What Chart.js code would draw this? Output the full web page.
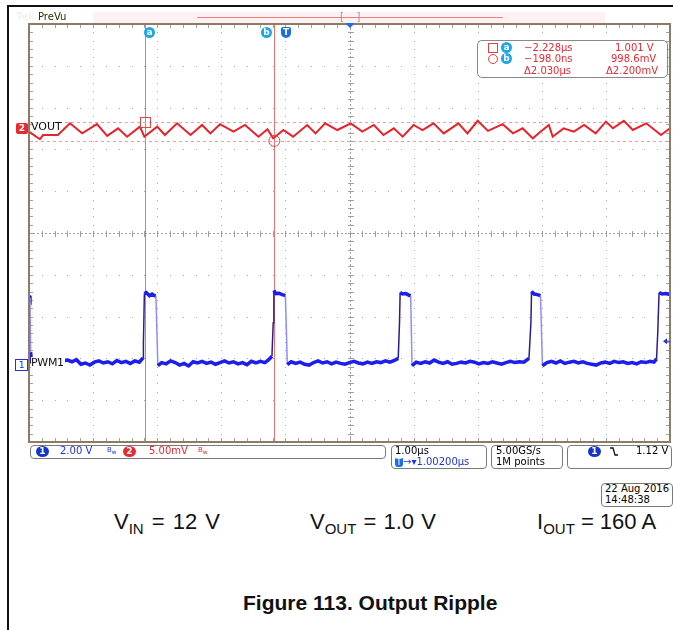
<!DOCTYPE html>
<html>
<head>
<meta charset="utf-8">
<script src="https://cdn.jsdelivr.net/npm/chart.js@4.4.1/dist/chart.umd.min.js"></script>
<style>
html, body { margin: 0; padding: 0; background: #fff; }
#page { position: relative; width: 673px; height: 630px; overflow: hidden; font-family: "DejaVu Sans", sans-serif; font-size: 10px; }
.abs { position: absolute; white-space: nowrap; line-height: 12px; }
#scope { position: absolute; left: 25px; top: 20px; }
.box { position: absolute; border: 1px solid #7a7a7a; border-radius: 4px; background: #fff; }
.dot { position: absolute; width: 11px; height: 11px; border-radius: 50%; color: #fff; font-size: 9px; font-weight: bold; line-height: 11px; text-align: center; }
.cyan { background: #1ea7e6; }
.red { color: #e52a32; }
.blue { color: #2233dd; }
.cap { position: absolute; white-space: nowrap; font-family: "Liberation Sans", Arial, sans-serif; font-size: 22px; line-height: 24px; color: #111; }
.cap sub { font-size: 15px; vertical-align: baseline; position: relative; top: 5px; }
.bw { font-size: 7px; position: relative; top: -2px; }
</style>
</head>
<body>
<div id="page">
  <canvas id="scope" width="649" height="426"></canvas>

  <div class="abs" style="left:7px;top:5px;width:666px;height:2px;background:#111"></div>
  <div class="abs" style="left:7px;top:5px;width:2px;height:625px;background:#111"></div>

  <div class="abs" style="left:93px;top:12px;width:512px;height:11px;background:#fdf1f4"></div>
  <div class="abs" style="left:197px;top:17px;width:306px;height:1px;background:#f07c7c"></div>
  <div class="abs" style="left:16px;top:11px;color:#f2f2f2;font-weight:bold">Tek</div>
  <div class="abs" style="left:38px;top:11px;color:#2b2b00">PreVu</div>
  <div class="abs" style="left:340px;top:11px;color:#999;font-size:10px">[&nbsp;&nbsp;&nbsp;&nbsp;]</div>

  <div class="dot cyan" style="left:144px;top:27px">a</div>
  <div class="dot cyan" style="left:261px;top:27px">b</div>
  <div class="abs" style="left:281px;top:27px;width:10px;height:11px;background:#1c6fe0;color:#fff;font-size:9px;font-weight:bold;text-align:center;line-height:11px;border-radius:2px 2px 5px 5px">T</div>

  <div class="box" style="left:477px;top:40px;width:189px;height:36px;border-color:#888;border-radius:5px"></div>
  <div class="abs" style="left:488px;top:43px;width:8px;height:8px;border:1px solid #e84040"></div>
  <div class="dot cyan" style="left:501px;top:42px">a</div>
  <div class="abs red" style="left:524px;top:42px">−2.228µs</div>
  <div class="abs red" style="left:615px;top:42px">1.001 V</div>
  <div class="abs" style="left:488px;top:54px;width:8px;height:8px;border:1px solid #e84040;border-radius:50%"></div>
  <div class="dot cyan" style="left:501px;top:53px">b</div>
  <div class="abs red" style="left:524px;top:53px">−198.0ns</div>
  <div class="abs red" style="left:611px;top:53px">998.6mV</div>
  <div class="abs red" style="left:524px;top:65px">Δ2.030µs</div>
  <div class="abs red" style="left:606px;top:65px">Δ2.200mV</div>

  <div class="abs" style="left:16px;top:123px;width:12px;height:11px;background:#e52a32;color:#fff;font-weight:bold;font-size:9px;text-align:center;line-height:11px;border-radius:2px">2</div>
  <div class="abs" style="left:31px;top:121px;color:#111;font-size:11px">VOUT</div>
  <div class="abs" style="left:15px;top:359px;width:11px;height:10px;border:1px solid #2233dd;color:#2233dd;font-size:9px;text-align:center;line-height:10px;background:#fff">1</div>
  <div class="abs" style="left:31px;top:357px;color:#111;background:#fff;padding-right:1px;font-size:11px;letter-spacing:-0.3px">PWM1</div>

  <div class="box" style="left:30px;top:445px;width:354px;height:12px"></div>
  <div class="dot" style="left:36px;top:446px;width:13px;background:#1536c8">1</div>
  <div class="abs blue" style="left:60px;top:445px">2.00 V</div>
  <div class="abs blue" style="left:107px;top:445px"><span class="bw">B<sub>w</sub></span></div>
  <div class="dot" style="left:123px;top:446px;width:13px;background:#e52a32">2</div>
  <div class="abs red" style="left:149px;top:445px">5.00mV</div>
  <div class="abs red" style="left:198px;top:445px"><span class="bw">B<sub>w</sub></span></div>

  <div class="box" style="left:391px;top:445px;width:94px;height:22px"></div>
  <div class="abs" style="left:395px;top:445px">1.00µs</div>
  <div class="abs blue" style="left:395px;top:456px"><span style="display:inline-block;width:8px;height:9px;background:#1c6fe0;color:#fff;font-size:8px;line-height:9px;text-align:center;border-radius:1px 1px 3px 3px">T</span>→▾1.00200µs</div>

  <div class="box" style="left:491px;top:445px;width:70px;height:22px"></div>
  <div class="abs" style="left:496px;top:445px">5.00GS/s</div>
  <div class="abs" style="left:496px;top:456px">1M points</div>

  <div class="box" style="left:567px;top:445px;width:103px;height:22px"></div>
  <div class="dot" style="left:588px;top:446px;width:13px;background:#1536c8">1</div>
  <svg class="abs" style="left:609px;top:446px" width="10" height="11"><polyline points="1,2 4,2 6,9 9,9" fill="none" stroke="#111" stroke-width="1.3"/></svg>
  <div class="abs" style="left:636px;top:445px">1.12 V</div>

  <div class="box" style="left:601px;top:483px;width:70px;height:22px"></div>
  <div class="abs" style="left:605px;top:483px">22 Aug 2016</div>
  <div class="abs" style="left:605px;top:494px">14:48:38</div>

  <div class="cap" style="left:114px;top:510px;word-spacing:2px">V<sub>IN</sub> = 12 V</div>
  <div class="cap" style="left:310px;top:510px;word-spacing:1px">V<sub>OUT</sub> = 1.0 V</div>
  <div class="cap" style="left:537px;top:510px">I<sub>OUT</sub> = 160 A</div>
  <div class="cap" style="left:243px;top:591px;font-size:21px;font-weight:bold">Figure 113. Output Ripple</div>
</div>

<script>
// time in µs from screen centre, 1 µs/div, 10 divisions
const voutTime = [-5.00, -4.83, -4.78, -4.55, -4.36, -4.17, -3.94, -3.78, -3.61, -3.47, -3.27, -3.20,
  -3.00, -2.88, -2.69, -2.48, -2.30, -2.17, -2.02, -1.81, -1.63, -1.42, -1.28, -1.19, -1.03, -0.88,
  -0.66, -0.53, -0.38, -0.19, 0.02, 0.20, 0.38, 0.53, 0.69, 0.83, 1.00, 1.14, 1.31, 1.47, 1.70, 1.84,
  2.00, 2.16, 2.39, 2.55, 2.70, 2.86, 2.98, 3.11, 3.17, 3.34, 3.50, 3.66, 3.84, 4.00, 4.11, 4.28, 4.42,
  4.63, 4.86, 5.00];
// VOUT in mV (ch2, 5 mV/div)
const voutMv = [999.7, 998.8, 999.3, 999.3, 1000.7, 999.5, 1000.6, 999.2, 1000.1, 999.1, 1000.3, 999.1,
  1000.3, 999.3, 1000.7, 999.3, 1000.5, 999.5, 1000.6, 999.7, 1000.5, 999.1, 1000.0, 998.9, 999.9, 999.1,
  1000.5, 999.5, 1000.7, 999.9, 1000.7, 999.7, 1000.5, 999.3, 1000.1, 999.1, 1000.5, 999.9, 1000.7, 999.5,
  1000.7, 999.5, 1001.0, 999.8, 1000.6, 999.5, 1000.1, 998.9, 999.7, 1000.5, 999.1, 1000.1, 999.7, 1000.5,
  999.5, 1000.9, 1000.1, 1001.0, 999.9, 1000.7, 999.3, 1000.1];

const pwmTime = [-5.00, -4.985, -4.975,
  -4.96, -4.88, -4.80, -4.72, -4.64, -4.56, -4.48, -4.40, -4.33, -4.26, -4.19, -4.12, -4.05, -3.98, -3.91,
  -3.84, -3.77, -3.70, -3.63, -3.56, -3.49, -3.42, -3.35, -3.28, -3.24, -3.22,
  -3.215, -3.20, -3.17, -3.12, -3.08, -3.04, -3.02,
  -2.99, -2.93, -2.86, -2.79, -2.72, -2.65, -2.58, -2.51, -2.44, -2.37, -2.30, -2.23, -2.16, -2.09, -2.02,
  -1.95, -1.88, -1.81, -1.74, -1.67, -1.60, -1.53, -1.46, -1.39, -1.32, -1.26, -1.21,
  -1.19, -1.18, -1.15, -1.10, -1.05, -1.00,
  -0.97, -0.91, -0.84, -0.77, -0.70, -0.63, -0.56, -0.49, -0.42, -0.35, -0.28, -0.21, -0.14, -0.07, 0.00,
  0.07, 0.14, 0.21, 0.28, 0.35, 0.42, 0.49, 0.56, 0.63, 0.70, 0.76,
  0.78, 0.79, 0.83, 0.88, 0.93, 0.955,
  0.975, 1.04, 1.11, 1.18, 1.25, 1.32, 1.39, 1.46, 1.53, 1.60, 1.67, 1.74, 1.81, 1.88, 1.95, 2.02, 2.09,
  2.16, 2.23, 2.30, 2.37, 2.44, 2.51, 2.58, 2.65, 2.72, 2.80,
  2.83, 2.84, 2.88, 2.93, 2.98,
  3.01, 3.08, 3.15, 3.22, 3.29, 3.36, 3.43, 3.50, 3.57, 3.64, 3.71, 3.78, 3.85, 3.92, 3.99, 4.06, 4.13,
  4.20, 4.27, 4.34, 4.41, 4.48, 4.55, 4.62, 4.69, 4.75, 4.79,
  4.81, 4.82, 4.83, 4.88, 4.93, 5.00];
// PWM1 in V (ch1, 2 V/div)
const pwmVolts = [3.30, 3.20, 0.60,
  0.12, 0.06, 0.16, 0.08, 0.14, 0.04, 0.18, 0.22, 0.14, 0.24, 0.02, 0.08, -0.02, 0.12, 0.18,
  0.08, 0.14, 0.04, 0.20, 0.10, 0.16, 0.06, 0.18, 0.12, 0.26, 0.32,
  1.00, 3.40, 3.45, 3.30, 3.38, 3.30, 3.30,
  -0.05, 0.10, 0.04, 0.18, 0.10, -0.02, 0.06, -0.06, 0.14, 0.08, 0.16, 0.06, 0.12, 0.02, 0.10,
  0.18, 0.08, 0.14, 0.04, 0.10, 0.00, 0.16, 0.08, 0.16, 0.10, 0.24, 0.40,
  2.00, 3.55, 3.40, 3.42, 3.35, 3.30,
  0.00, 0.14, 0.06, 0.12, 0.02, -0.02, 0.10, 0.18, 0.08, 0.14, 0.04, 0.12, 0.06, 0.02, 0.10,
  0.16, 0.08, 0.04, 0.12, 0.06, 0.14, 0.10, 0.18, 0.12, 0.20, 0.30,
  2.00, 3.45, 3.38, 3.40, 3.32, 3.30,
  -0.05, 0.12, 0.06, 0.14, 0.08, 0.22, 0.12, 0.06, 0.14, 0.02, 0.06, 0.12, 0.08, 0.16, 0.12, 0.04, 0.10,
  0.06, 0.14, 0.08, 0.02, 0.10, 0.16, 0.10, 0.14, 0.12, 0.30,
  2.00, 3.50, 3.38, 3.35, 3.30,
  -0.05, 0.10, 0.16, 0.08, 0.18, 0.06, 0.12, 0.16, 0.08, 0.14, 0.06, 0.02, -0.02, 0.08, 0.12, 0.06, 0.16,
  0.10, 0.14, 0.06, 0.10, 0.04, 0.14, 0.10, 0.16, 0.12, 0.28,
  1.60, 2.60, 3.45, 3.38, 3.40, 3.35];

const cursorTimes = [-3.19, -1.18];     // a, b
const cursorLevels = [1000.8, 998.6];   // mV
const triggerLevel = 1.12;              // V

// channel vertical settings -> graticule divisions
const ch1Div = v => -3.15 + v / 2.0;
const ch2Div = mv => 2.5 + (mv - 1000.08) / 5.0;

const graticule = {
  id: "graticule",
  beforeDatasetsDraw(chart) {
    const { ctx, scales: { x, y } } = chart;
    const px = v => Math.round(x.getPixelForValue(v));
    const py = v => Math.round(y.getPixelForValue(v));
    ctx.save();
    ctx.fillStyle = "#a6a6a6";
    for (let i = -4; i <= 4; i++) {
      if (i === 0) continue;
      for (let k = -25; k <= 25; k++) {
        ctx.fillRect(px(i), py(k / 5), 1, 1);
        ctx.fillRect(px(k / 5), py(i), 1, 1);
      }
    }
    // centre cross with minor ticks
    ctx.strokeStyle = "#a0a0a0";
    ctx.lineWidth = 1;
    ctx.beginPath();
    ctx.setLineDash([2, 2]);
    ctx.moveTo(px(0) + 0.5, py(5)); ctx.lineTo(px(0) + 0.5, py(-5));
    ctx.moveTo(px(-5), py(0) + 0.5); ctx.lineTo(px(5), py(0) + 0.5);
    ctx.stroke();
    ctx.setLineDash([]);
    ctx.beginPath();
    for (let k = -25; k <= 25; k++) {
      ctx.moveTo(px(0) - 2, py(k / 5) + 0.5); ctx.lineTo(px(0) + 4, py(k / 5) + 0.5);
      ctx.moveTo(px(k / 5) + 0.5, py(0) - 2); ctx.lineTo(px(k / 5) + 0.5, py(0) + 4);
      // edge ticks
      ctx.moveTo(px(-5), py(k / 5) + 0.5); ctx.lineTo(px(-5) + 4, py(k / 5) + 0.5);
      ctx.moveTo(px(5), py(k / 5) + 0.5); ctx.lineTo(px(5) - 4, py(k / 5) + 0.5);
      ctx.moveTo(px(k / 5) + 0.5, py(-5)); ctx.lineTo(px(k / 5) + 0.5, py(-5) - 4);
      ctx.moveTo(px(k / 5) + 0.5, py(5)); ctx.lineTo(px(k / 5) + 0.5, py(5) + 4);
    }
    ctx.stroke();
    // cursors
    ctx.strokeStyle = "#ee7474";
    ctx.beginPath();
    cursorTimes.forEach(t => { ctx.moveTo(px(t) + 0.5, py(5)); ctx.lineTo(px(t) + 0.5, py(-5)); });
    ctx.stroke();
    ctx.setLineDash([3, 3]);
    ctx.strokeStyle = "#f39a9a";
    ctx.beginPath();
    cursorLevels.forEach(m => { ctx.moveTo(px(-5), py(ch2Div(m)) + 0.5); ctx.lineTo(px(5), py(ch2Div(m)) + 0.5); });
    ctx.stroke();
    ctx.restore();
  },
  afterDatasetsDraw(chart) {
    const { ctx, chartArea: a, scales: { x, y } } = chart;
    ctx.save();
    ctx.strokeStyle = "#e04848";
    ctx.lineWidth = 1;
    const ax = Math.round(x.getPixelForValue(cursorTimes[0])) + 0.5;
    const ay = Math.round(y.getPixelForValue(ch2Div(cursorLevels[0]))) + 0.5;
    ctx.strokeRect(ax - 5, ay - 5, 10, 10);
    ctx.beginPath();
    ctx.arc(x.getPixelForValue(cursorTimes[1]) + 0.5, y.getPixelForValue(ch2Div(cursorLevels[1])), 5.5, 0, Math.PI * 2);
    ctx.stroke();
    // frame
    ctx.strokeStyle = "#8e7b63";
    ctx.lineWidth = 2;
    ctx.strokeRect(a.left, a.top, a.right - a.left, a.bottom - a.top);
    // trigger position + level markers
    ctx.fillStyle = "#1c6fe0";
    const cx = x.getPixelForValue(0) + 0.5;
    ctx.beginPath();
    ctx.moveTo(cx - 4, a.top - 8); ctx.lineTo(cx + 4, a.top - 8); ctx.lineTo(cx + 4, a.top);
    ctx.lineTo(cx, a.top + 4); ctx.lineTo(cx - 4, a.top); ctx.closePath();
    ctx.fill();
    const ty = y.getPixelForValue(ch1Div(triggerLevel));
    ctx.fillStyle = "#2233dd";
    ctx.beginPath();
    ctx.moveTo(a.right - 7, ty); ctx.lineTo(a.right - 3, ty - 3); ctx.lineTo(a.right - 3, ty + 3); ctx.closePath();
    ctx.fill();
    ctx.fillRect(a.right - 3, ty - 0.5, 3, 1);
    ctx.restore();
  }
};

new Chart(document.getElementById("scope").getContext("2d"), {
  type: "line",
  data: {
    datasets: [
      {
        label: "VOUT",
        data: voutTime.map((t, i) => ({ x: t, y: ch2Div(voutMv[i]) })),
        borderColor: "#e8222a",
        borderWidth: 2,
        pointRadius: 0
      },
      {
        label: "PWM1",
        data: pwmTime.map((t, i) => ({ x: t, y: ch1Div(pwmVolts[i]) })),
        borderColor: "#1c1ef0",
        borderWidth: 3.5,
        pointRadius: 0,
        segment: {
          borderColor: c => {
            const dy = c.p1.parsed.y - c.p0.parsed.y;
            if (dy > 0.3) return "#2a1f8a";
            if (dy < -0.3) return "#8c8eff";
            return undefined;
          },
          borderWidth: c => Math.abs(c.p1.parsed.y - c.p0.parsed.y) > 0.3 ? 1.5 : undefined
        }
      }
    ]
  },
  options: {
    responsive: false,
    animation: false,
    devicePixelRatio: 1,
    layout: { padding: { left: 4, top: 4, right: 4, bottom: 4 } },
    plugins: { legend: { display: false }, tooltip: { enabled: false } },
    scales: {
      x: { type: "linear", min: -5, max: 5, display: false },
      y: { type: "linear", min: -5, max: 5, display: false }
    }
  },
  plugins: [graticule]
});
</script>
</body>
</html>
